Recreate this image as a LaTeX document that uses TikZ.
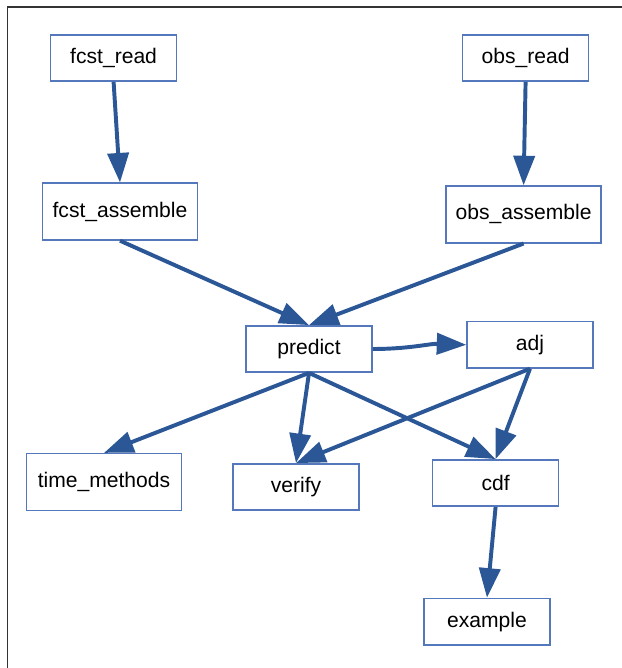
\documentclass[tikz,border=0pt]{standalone}
\usepackage{fontspec}
\setmainfont{Liberation Sans}
\usetikzlibrary{arrows.meta}
\definecolor{boxblue}{HTML}{5577BB}
\definecolor{arrowblue}{HTML}{2B5797}

\begin{document}
\begin{tikzpicture}
	\tikzstyle{box}=[rectangle, draw=boxblue, line width=1pt, inner sep=0pt, minimum width=3.15cm, minimum height=1.16cm, font=\fontsize{15}{18}\selectfont];
	\tikzstyle{wide}=[minimum width=3.87cm, minimum height=1.42cm];
	\tikzstyle{flow}=[draw=arrowblue, line width=2.8pt, -{Triangle[length=21pt, width=15pt]}];

   \useasboundingbox (0, 0) rectangle (15.55, 16.7);
   \draw[line width=1pt, black!80] (0.19, 0) -- (0.19, 16.525) -- (15.55, 16.525);

   \node[box] (fcst_read) at (2.84, 15.25) {fcst\_read};
   \node[box] (obs_read) at (13.14, 15.25) {obs\_read};
   \node[box, wide] (fcst_assemble) at (3.0, 11.41) {fcst\_assemble};
   \node[box, wide] (obs_assemble) at (13.09, 11.34) {obs\_assemble};
   \node[box] (predict) at (7.725, 7.975) {predict};
   \node[box] (adj) at (13.25, 8.08) {adj};
   \node[box, wide] (time_methods) at (2.6, 4.65) {time\_methods};
   \node[box] (verify) at (7.4, 4.525) {verify};
   \node[box] (cdf) at (12.39, 4.625) {cdf};
   \node[box] (example) at (12.175, 1.16) {example};

   \draw (fcst_read.south) edge[flow] (fcst_assemble.north);
   \draw (obs_read.south) edge[flow] (obs_assemble.north);
   \draw (fcst_assemble.south) edge[flow] (predict.north);
   \draw (obs_assemble.south) edge[flow] (predict.north);
   \draw (predict.east) edge[flow, out=0, in=178] (adj.west);
   \draw (predict.south) edge[flow] (time_methods.north);
   \draw (predict.south) edge[flow] (verify.north);
   \draw (predict.south) edge[flow] (cdf.north);
   \draw (adj.south) edge[flow] (verify.north);
   \draw (adj.south) edge[flow] (cdf.north);
   \draw (cdf.south) edge[flow] (example.north);

\end{tikzpicture}
\end{document}
